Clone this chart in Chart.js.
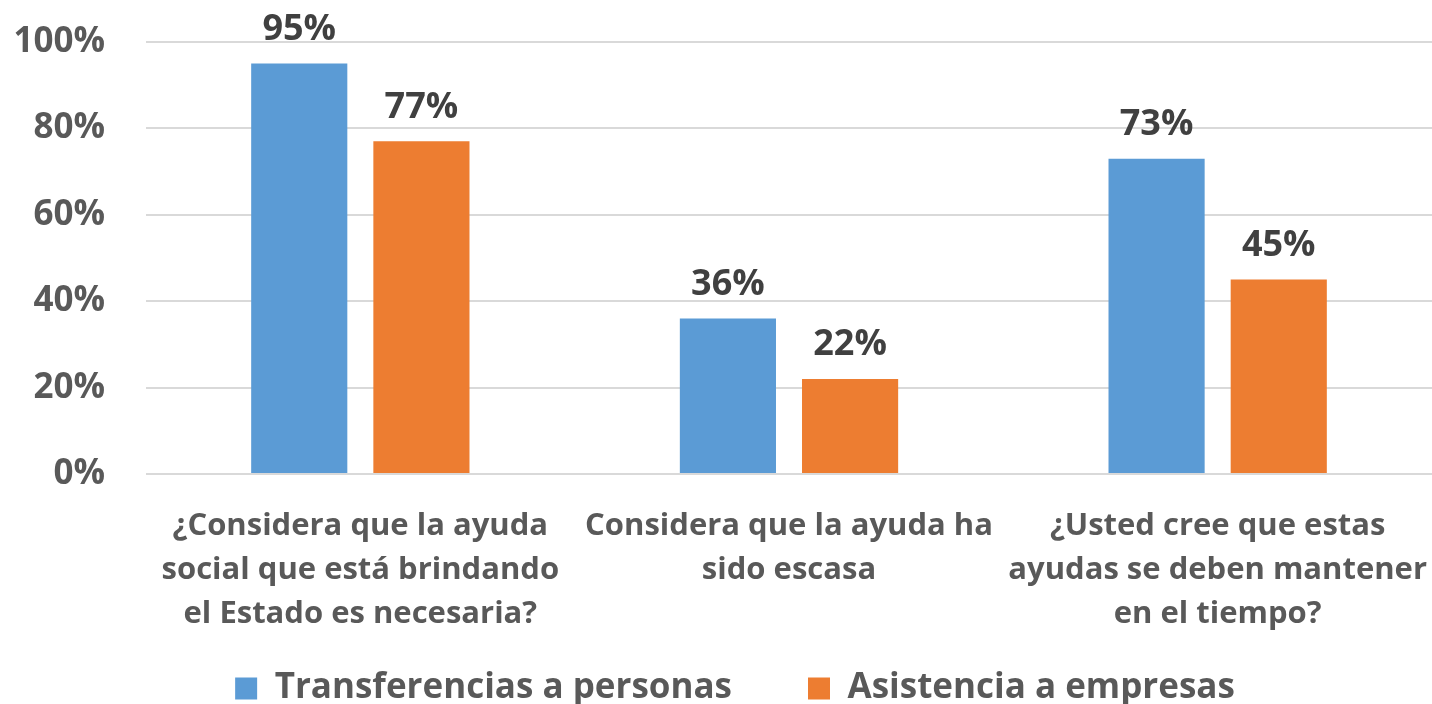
<!DOCTYPE html>
<html>
<head>
<meta charset="utf-8">
<script src="https://cdn.jsdelivr.net/npm/chart.js@4/dist/chart.umd.min.js"></script>
<style>
html,body{margin:0;padding:0;background:#fff;}
#wrap{width:1432px;height:704px;}
</style>
</head>
<body>
<div id="wrap"><canvas id="c" width="1432" height="704"></canvas></div>
<script>
const categories = [
  ["¿Considera que la ayuda", "social que está brindando", "el Estado es necesaria?"],
  ["Considera que la ayuda ha", "sido escasa"],
  ["¿Usted cree que estas", "ayudas se deben mantener", "en el tiempo?"]
];
const seriesNames = ["Transferencias a personas", "Asistencia a empresas"];
const transferencias = [0.95, 0.36, 0.73];
const asistencia = [0.77, 0.22, 0.45];
const yTicks = [0, 0.2, 0.4, 0.6, 0.8, 1.0];

const FONT = "'Open Sans', 'Liberation Sans', sans-serif";
const TEXT = '#595959';

const dataLabels = {
  id: 'dataLabels',
  afterDatasetsDraw(chart) {
    const ctx = chart.ctx;
    ctx.save();
    ctx.font = 'bold 36px ' + FONT;
    ctx.fillStyle = '#404040';
    ctx.textAlign = 'center';
    ctx.textBaseline = 'middle';
    chart.data.datasets.forEach((ds, i) => {
      const meta = chart.getDatasetMeta(i);
      meta.data.forEach((el, j) => {
        ctx.fillText(Math.round(ds.data[j] * 100) + '%', el.x, el.y - 34);
      });
    });
    ctx.restore();
  }
};

const legendPlace = {
  id: 'legendPlace',
  beforeLayout(chart) {
    const lg = chart.legend;
    if (lg && !lg._fixedFit) {
      const orig = lg.fit;
      lg.fit = function () { orig.call(this); this.height = 69; };
      lg._fixedFit = true;
    }
  },
  afterLayout(chart) {
    const lg = chart.legend;
    if (lg) {
      lg.top = 595; lg.bottom = 704; lg.height = 109;
      lg.left += 19; lg.right += 19;
    }
  }
};

new Chart(document.getElementById('c'), {
  type: 'bar',
  data: {
    labels: categories,
    datasets: [
      { label: seriesNames[0], data: transferencias, backgroundColor: '#5B9BD5' },
      { label: seriesNames[1], data: asistencia, backgroundColor: '#ED7D31' }
    ]
  },
  options: {
    responsive: false,
    animation: false,
    devicePixelRatio: 1,
    layout: { padding: { left: 0, right: 0, top: 42, bottom: 0 } },
    datasets: { bar: { categoryPercentage: 0.57, barPercentage: 0.787 } },
    plugins: {
      legend: {
        position: 'bottom',
        labels: {
          boxWidth: 22, boxHeight: 22, padding: 76,
          color: TEXT,
          font: { family: FONT, size: 35, weight: 'bold' }
        }
      },
      tooltip: { enabled: false }
    },
    scales: {
      x: {
        grid: { display: false, drawTicks: false },
        border: { display: false },
        ticks: {
          color: TEXT, padding: 30, maxRotation: 0, autoSkip: false,
          font: { family: FONT, size: 31, weight: 'bold', lineHeight: 1.42 }
        },
        afterFit(s) { s.height = 161; s.paddingLeft = 0; s.paddingRight = 0; }
      },
      y: {
        min: 0, max: 1,
        afterBuildTicks(s) { s.ticks = yTicks.map(v => ({ value: v })); },
        grid: { color: '#D9D9D9', lineWidth: 2, drawTicks: false },
        border: { display: false },
        ticks: {
          color: TEXT, padding: 41,
          font: { family: FONT, size: 35, weight: 'bold' },
          callback: v => Math.round(v * 100) + '%'
        },
        afterFit(s) { s.width = 146; s.paddingTop = 0; s.paddingBottom = 0; }
      }
    }
  },
  plugins: [dataLabels, legendPlace]
});
</script>
</body>
</html>
